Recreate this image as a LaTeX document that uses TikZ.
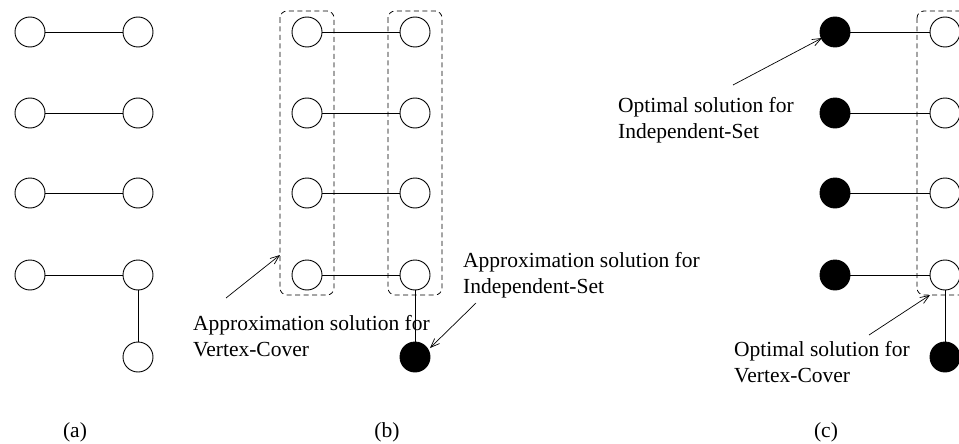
\documentclass[tikz,border=0pt]{standalone}
\usepackage{fontspec}
\setmainfont{Liberation Serif}
\usetikzlibrary{arrows.meta}
\begin{document}
\begin{tikzpicture}[x=1pt,y=-1pt,
  v/.style={circle, draw, minimum size=30pt, inner sep=0pt, line width=0.9pt},
  vb/.style={v, fill=black},
  e/.style={line width=0.9pt},
  grp/.style={draw, rounded corners=7pt, line width=0.8pt, dash pattern=on 5pt off 3.5pt},
  lab/.style={align=left, anchor=west, font=\fontsize{21.5}{25.5}\selectfont, inner sep=0pt},
  captxt/.style={font=\fontsize{21.5}{25}\selectfont, inner sep=0pt},
  arr/.style={-{Straight Barb[length=9pt,width=7pt]}, line width=0.7pt}]
\useasboundingbox (0,0) rectangle (959,444);
\clip (0,0) rectangle (959,444);
% (a)
\foreach \i/\y in {1/32,2/113,3/193,4/275}{
  \node[v] (aL\i) at (30,\y) {};
  \node[v] (aR\i) at (138,\y) {};
  \draw[e] (aL\i) -- (aR\i);
}
\node[v] (a5) at (138,357) {};
\draw[e] (aR4) -- (a5);
% (b)
\draw[grp] (280,11) rectangle (334,295);
\draw[grp] (388,11) rectangle (442,295);
\foreach \i/\y in {1/32,2/113,3/193,4/275}{
  \node[v] (bL\i) at (307,\y) {};
  \node[v] (bR\i) at (415,\y) {};
  \draw[e] (bL\i) -- (bR\i);
}
\node[vb] (b5) at (415,357) {};
\draw[e] (bR4) -- (b5);
% (c)
\draw[grp] (917,11) rectangle (990,295);
\foreach \i/\y in {1/32,2/113,3/193,4/275}{
  \node[vb] (cL\i) at (835,\y) {};
  \node[v] (cR\i) at (945,\y) {};
  \draw[e] (cL\i) -- (cR\i);
}
\node[vb] (c5) at (945,357) {};
\draw[e] (cR4) -- (c5);
% labels
\node[lab] (l1) at (193,336) {Approximation solution for\\Vertex-Cover};
\node[lab] (l2) at (463,275) {Approximation solution for\\Independent-Set};
\node[lab] (l3) at (618,120) {Optimal solution for\\Independent-Set};
\node[lab] (l4) at (734,362) {Optimal solution for\\Vertex-Cover};
% arrows
\coordinate (s1) at (226,298); \coordinate (t1) at (280,255);
\coordinate (s2) at (476,303); \coordinate (t2) at (430,348);
\coordinate (s3) at (733,85);  \coordinate (t3) at (822,38);
\coordinate (s4) at (869,335); \coordinate (t4) at (930,295);
\draw[arr] (s1) -- (t1);
\draw[arr] (s2) -- (t2);
\draw[arr] (s3) -- (t3);
\draw[arr] (s4) -- (t4);
% captions
\node[captxt] (ca) at (75,432) {(a)};
\node[captxt] (cb) at (387,432) {(b)};
\node[captxt] (cc) at (826,432) {(c)};
\end{tikzpicture}
\end{document}
